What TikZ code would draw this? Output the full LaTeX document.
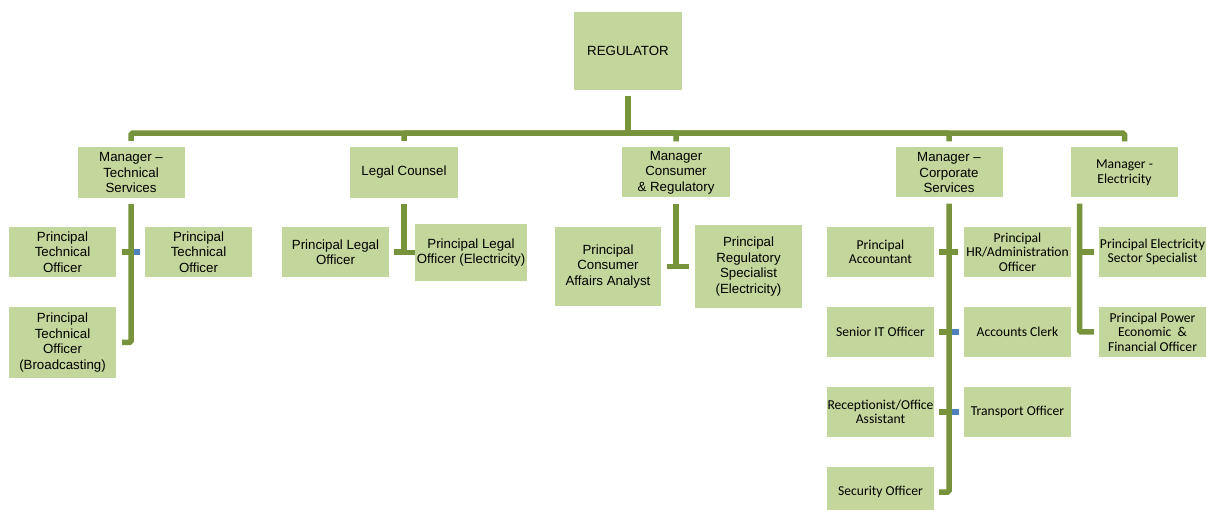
\documentclass[tikz,border=0pt]{standalone}
\usepackage{fontspec}
\setmainfont{Liberation Sans}
\newfontfamily\calibri{Carlito}
\usetikzlibrary{positioning}
\definecolor{boxgreen}{HTML}{C3D69B}
\definecolor{linegreen}{HTML}{77933C}
\definecolor{stubblue}{HTML}{4F81BD}
\tikzset{
    box/.style={
           rectangle,
           fill=boxgreen,
           minimum width=107pt,
           minimum height=50pt,
           inner sep=0pt,
           align=center,
           font=\fontsize{13.3}{15.5}\selectfont
           },
    cbox/.style={
           box,
           font=\calibri\fontsize{13.6}{14.5}\selectfont
           },
    trunk/.style={
           draw=linegreen,
           line width=5.5pt,
           rounded corners=1.5pt
           },
    bluestub/.style={
           draw=stubblue,
           line width=5.5pt
           }
}

\begin{document}
\begin{tikzpicture}[x=1pt, y=-1pt, on grid]
\useasboundingbox (0,0) rectangle (1207,510);
   % top
   \node[box, minimum width=108pt, minimum height=78pt] (reg) at (628,51) {REGULATOR};
   \coordinate (bus) at ([yshift=-43pt]reg.south);
   % managers
   \node[box, minimum height=51pt] (mts) at (131,172.5) {Manager --\\Technical\\Services};
   \node[box, minimum width=108pt, minimum height=51pt] (lc) [right=273pt of mts] {Legal Counsel};
   \node[box, minimum width=108pt] (mcr) [right=272pt of lc] {Manager\\Consumer\\\& Regulatory};
   \node[box] (mcs) [right=273pt of mcr] {Manager --\\Corporate\\Services};
   \node[cbox] (me) [right=175.5pt of mcs] {Manager -\\Electricity};
   % technical services
   \node[box] (ptoa) [below left=79.5pt and 68.5pt of mts] {Principal\\Technical\\Officer};
   \node[box] (ptoc) [below right=79.5pt and 67.5pt of mts] {Principal\\Technical\\Officer};
   \node[box, minimum height=71pt] (ptob) [below=90.5pt of ptoa] {Principal\\Technical\\Officer\\(Broadcasting)};
   % legal
   \node[box] (plo) [below left=79.5pt and 68.5pt of lc] {Principal Legal\\Officer};
   \node[box, minimum width=112pt, minimum height=57pt] (ploe) [below right=80pt and 67pt of lc] {Principal Legal\\Officer (Electricity)};
   % consumer
   \node[box, minimum width=106pt, minimum height=79pt] (pcaa) [below left=94pt and 68pt of mcr] {Principal\\Consumer\\Affairs Analyst};
   \node[box, minimum height=83pt] (prs) [below right=94pt and 72.5pt of mcr] {Principal\\Regulatory\\Specialist\\(Electricity)};
   % corporate
   \node[cbox] (pa) [below left=79.5pt and 68.5pt of mcs] {Principal\\Accountant};
   \node[cbox] (phr) [below right=79.5pt and 68.5pt of mcs] {Principal\\HR/Administration\\Officer};
   \node[cbox] (sit) [below=80pt of pa] {Senior IT Officer};
   \node[cbox] (ac) [below=80pt of phr] {Accounts Clerk};
   \node[cbox] (rec) [below=80pt of sit] {Receptionist/Office\\Assistant};
   \node[cbox] (tr) [below=80pt of ac] {Transport Officer};
   \node[cbox] (secu) [below=80pt of rec] {Security Officer};
   % electricity
   \node[cbox] (pes) [below right=79.5pt and 28pt of me] {Principal Electricity\\Sector Specialist};
   \node[cbox] (ppe) [below=80pt of pes] {Principal Power\\Economic \ \&\\Financial Officer};
   \coordinate (elbus) at ([xshift=-45pt]me.south);

   % regulator to managers
   \draw[trunk, shorten <=6pt] (reg.south) -- (bus);
   \draw[trunk, shorten >=6pt] (bus) -| (mts.north);
   \draw[trunk, shorten >=6pt] (bus) -| (lc.north);
   \draw[trunk, shorten >=6pt] (bus) -| (mcr.north);
   \draw[trunk, shorten >=6pt] (bus) -| (mcs.north);
   \draw[trunk, shorten >=6pt] (bus) -| (me.north);

   % technical services
   \draw[bluestub, shorten <=5pt] (ptoc.west) -- (ptoc.west -| mts.south);
   \draw[trunk, shorten <=6pt] (ptoa.east) -- (ptoa.east -| mts.south);
   \draw[trunk, shorten <=6pt, shorten >=6pt] (mts.south) |- (ptob.east);
   % legal
   \draw[trunk, shorten <=6pt] (lc.south) -- (lc.south |- plo.east);
   \draw[trunk, shorten <=5pt] (plo.east) -- (plo.east -| lc.south);
   \draw[trunk] (ploe.west) -- (ploe.west -| lc.south);
   % consumer
   \draw[trunk, shorten <=6pt] (mcr.south) -- (mcr.south |- pcaa.east);
   \draw[trunk, shorten <=6pt] (pcaa.east) -- (pcaa.east -| mcr.south);
   \draw[trunk, shorten <=6pt] (prs.west) -- (prs.west -| mcr.south);
   % corporate
   \draw[bluestub, shorten <=5pt] (ac.west) -- (ac.west -| mcs.south);
   \draw[bluestub, shorten <=5pt] (tr.west) -- (tr.west -| mcs.south);
   \draw[trunk, shorten <=5pt] (pa.east) -- (pa.east -| mcs.south);
   \draw[trunk, shorten <=6pt] (phr.west) -- (phr.west -| mcs.south);
   \draw[trunk, shorten <=5pt] (sit.east) -- (sit.east -| mcs.south);
   \draw[trunk, shorten <=5pt] (rec.east) -- (rec.east -| mcs.south);
   \draw[trunk, shorten <=6pt, shorten >=5pt] (mcs.south) |- (secu.east);
   % electricity
   \draw[trunk, shorten <=5pt] (pes.west) -- (pes.west -| elbus);
   \draw[trunk, shorten <=6pt, shorten >=5pt] (elbus) |- (ppe.west);
\end{tikzpicture}
\end{document}
